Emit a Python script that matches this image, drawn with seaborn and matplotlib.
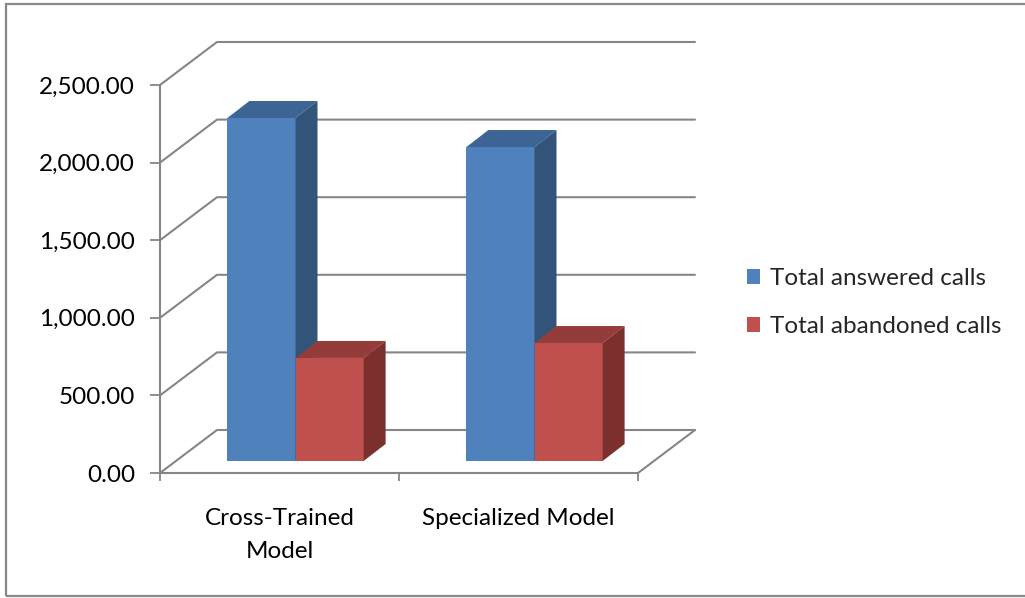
import numpy as np
import pandas as pd
import matplotlib
matplotlib.use("Agg")
import matplotlib.pyplot as plt
import seaborn as sns
from matplotlib.transforms import ScaledTranslation, IdentityTransform
from matplotlib.patches import Polygon, Rectangle, Patch
from matplotlib.lines import Line2D

# ---- data ----
categories = ["Cross-Trained\nModel", "Specialized Model"]
series = ["Total answered calls", "Total abandoned calls"]
answered = [2210, 2023]
abandoned = [664, 760]
yticks = [0, 500, 1000, 1500, 2000, 2500]
ytick_labels = ["0.00", "500.00", "1,000.00", "1,500.00", "2,000.00", "2,500.00"]

# ---- style ----
front_colors = ["#4F81BD", "#C0504D"]
top_colors = ["#3C6494", "#933C3A"]
side_colors = ["#325479", "#7B302E"]
grid_color = "#868686"
FS = 17.5

df = pd.DataFrame({
    "category": categories * 2,
    "series": [series[0]] * len(categories) + [series[1]] * len(categories),
    "value": answered + abandoned,
})

sns.set_theme(style="white")
plt.rcParams["font.family"] = ["Lato", "DejaVu Sans"]

W, H = 1025, 598
DPI = 100
fig = plt.figure(figsize=(W / DPI, H / DPI), dpi=DPI)
ax = fig.add_axes([160 / W, (H - 473) / H, (638 - 160) / W, (473 - 85) / H])
ax.patch.set_alpha(0)

sns.barplot(data=df, x="category", y="value", hue="series", order=categories,
            hue_order=series, palette=front_colors, width=0.57, saturation=1,
            ax=ax, legend=False)
ax.set_xlim(-0.5, 1.5)
ax.set_ylim(0, 2500)
ax.set_xlabel("")
ax.set_ylabel("")

# 3D pseudo-depth (pixels)
WALL = np.array([57.0, 43.0])
BAR_OFF = np.array([16.0, 12.0])
BAR_DEPTH = np.array([22.0, 17.0])

def pix(x, y):
    return np.array(ax.transData.transform((x, y)))

# back wall / side wall gridlines
for v in yticks:
    p = pix(-0.5, v)
    q = p + WALL
    r = pix(1.5, v) + WALL
    ax.add_line(Line2D([p[0], q[0], r[0]], [p[1], q[1], r[1]], color=grid_color,
                       lw=1.5, transform=IdentityTransform(), clip_on=False, zorder=0.5))
# floor right edge
p = pix(1.5, 0)
q = p + WALL
ax.add_line(Line2D([p[0], q[0]], [p[1], q[1]], color=grid_color, lw=1.5,
                   transform=IdentityTransform(), clip_on=False, zorder=0.5))

# bars: shift front faces into depth and add top/side faces
shift = ax.transData + ScaledTranslation(BAR_OFF[0] / DPI, BAR_OFF[1] / DPI, fig.dpi_scale_trans)
fc_list = [matplotlib.colors.to_rgb(c) for c in front_colors]
for patch in list(ax.patches):
    fc = patch.get_facecolor()[:3]
    si = int(np.argmin([np.sum((np.array(fc) - np.array(c)) ** 2) for c in fc_list]))
    patch.set_transform(shift)
    patch.set_clip_on(False)
    patch.set_edgecolor("none")
    patch.set_zorder(2 + 0.1 * si)
    x0, y0 = pix(patch.get_x(), patch.get_y()) + BAR_OFF
    x1, y1 = pix(patch.get_x() + patch.get_width(), patch.get_y() + patch.get_height()) + BAR_OFF
    dx, dy = BAR_DEPTH
    top = Polygon([(x0, y1), (x1, y1), (x1 + dx, y1 + dy), (x0 + dx, y1 + dy)],
                  closed=True, facecolor=top_colors[si], edgecolor="none",
                  transform=IdentityTransform(), clip_on=False, zorder=2 + 0.1 * si)
    side = Polygon([(x1, y0), (x1 + dx, y0 + dy), (x1 + dx, y1 + dy), (x1, y1)],
                   closed=True, facecolor=side_colors[si], edgecolor="none",
                   transform=IdentityTransform(), clip_on=False, zorder=2 + 0.1 * si)
    ax.add_patch(top)
    ax.add_patch(side)

ax.set_xlim(-0.5, 1.5)
ax.set_ylim(0, 2500)

# spines
for s in ["top", "right"]:
    ax.spines[s].set_visible(False)
for s in ["left", "bottom"]:
    ax.spines[s].set_visible(True)
    ax.spines[s].set_color(grid_color)
    ax.spines[s].set_linewidth(1.5)

# ticks
ax.set_yticks(yticks)
ax.set_yticklabels(ytick_labels)
ax.tick_params(axis="y", left=True, length=7, width=1.3, color=grid_color,
               direction="out", pad=11, labelsize=FS, labelcolor="black")
ax.set_xticks(range(len(categories)))
ax.set_xticklabels(categories, linespacing=1.7)
ax.set_xticks([-0.5, 0.5, 1.5], minor=True)
ax.tick_params(axis="x", which="major", bottom=True, length=0, pad=25,
               labelsize=FS, labelcolor="black")
ax.tick_params(axis="x", which="minor", bottom=True, length=6, width=1.3,
               color=grid_color, direction="out")

# legend
handles = [Patch(facecolor=c, edgecolor="none") for c in front_colors]
fig.legend(handles, series, loc="upper left",
           bbox_to_anchor=(747 / W, (H - 268) / H), frameon=False,
           fontsize=FS, handlelength=0.55, handleheight=0.55, handletextpad=0.38,
           labelspacing=1.12, borderpad=0, borderaxespad=0)

# outer frame (right edge falls outside the image)
fig.add_artist(Rectangle((6 / W, (H - 596) / H), (1040 - 6) / W, (596 - 4) / H,
                         transform=fig.transFigure, fill=False,
                         edgecolor="#888888", lw=1.6))

fig.savefig("out.png", dpi=DPI)
